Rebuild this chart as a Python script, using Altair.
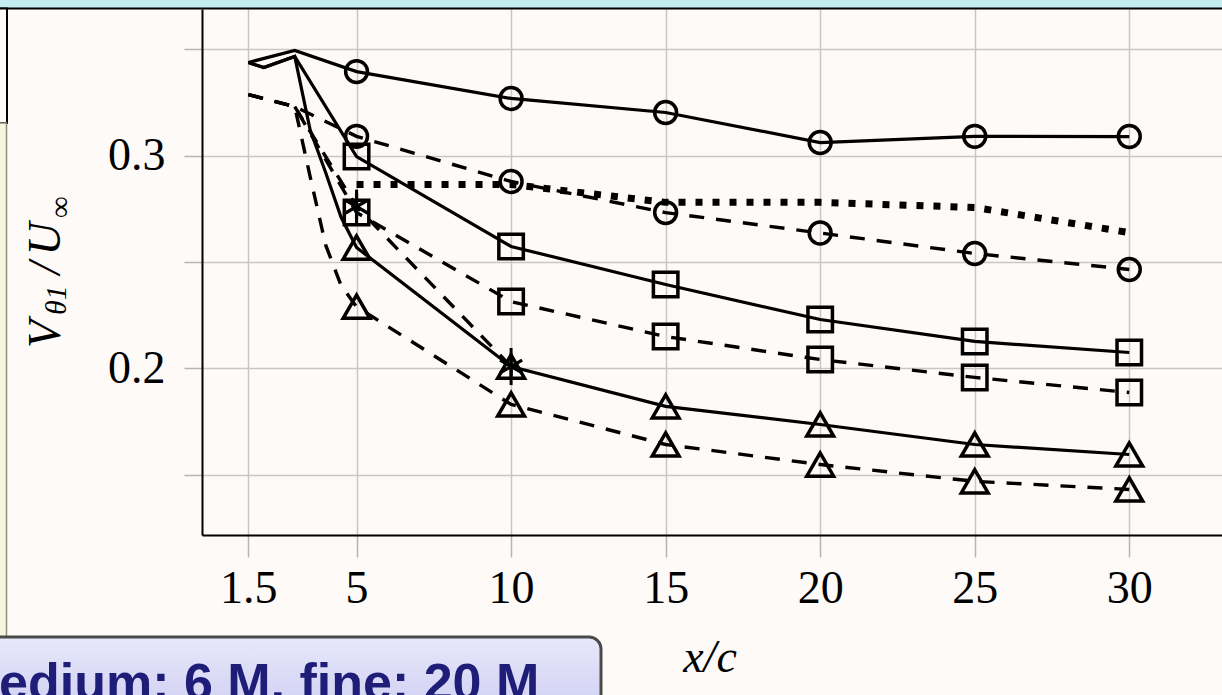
import altair as alt
import pandas as pd

# ---------------- data ----------------
sc_x = [1.5, 3, 5, 10, 15, 20, 25, 30]
sc_y = [0.3437, 0.3493, 0.3394, 0.3268, 0.3202, 0.3061, 0.3090, 0.3089]
ss_x = [1.5, 2, 3, 5, 10, 15, 20, 25, 30]
ss_y = [0.3437, 0.3413, 0.3465, 0.2995, 0.2573, 0.2394, 0.2230, 0.2127, 0.2075]
st_x = [1.5, 2, 3, 3.5, 4, 4.5, 5, 10, 15, 20, 25, 30]
st_y = [0.3437, 0.3413, 0.3465, 0.3120, 0.2920, 0.2710, 0.2568, 0.2009, 0.1822, 0.1737, 0.1643, 0.1596]
dc_x = [1.5, 3, 5, 10, 15, 20, 25, 30]
dc_y = [0.3286, 0.3230, 0.3090, 0.2878, 0.2732, 0.2636, 0.2540, 0.2465]
ds_x = [1.5, 3, 5, 10, 15, 20, 25, 30]
ds_y = [0.3286, 0.3230, 0.2732, 0.2314, 0.2150, 0.2042, 0.1958, 0.1887]
dt_x = [1.5, 3, 3.5, 4, 4.5, 5, 10, 15, 20, 25, 30]
dt_y = [0.3286, 0.3230, 0.2900, 0.2580, 0.2390, 0.2290, 0.1831, 0.1643, 0.1549, 0.1470, 0.1432]
dstar_x = [3, 5, 10]
dstar_y = [0.3230, 0.2760, 0.2009]
star_err_x = [5, 10]
star_err_y = [0.2760, 0.2009]
star_err = [0.0080, 0.0087]
dot_x = [5, 10, 15, 20, 25, 30]
dot_y = [0.2864, 0.2864, 0.2780, 0.2780, 0.2756, 0.2638]
marker_x = [5, 10, 15, 20, 25, 30]

x_ticks = [1.5, 5, 10, 15, 20, 25, 30]
y_ticks = [0.15, 0.2, 0.25, 0.3, 0.35]

x_title = "x/c"
box_text = "edium: 6 M, fine: 20 M"


def frame(name, xs, ys):
    return pd.DataFrame({"series": name, "x": xs, "y": ys})


solid_df = pd.concat([frame("sc", sc_x, sc_y), frame("ss", ss_x, ss_y), frame("st", st_x, st_y)])
dashed_df = pd.concat([frame("dc", dc_x, dc_y), frame("ds", ds_x, ds_y),
                       frame("dt", dt_x, dt_y), frame("dstar", dstar_x, dstar_y)])
dotted_df = frame("dot", dot_x, dot_y)


def markers(*dfs):
    d = pd.concat(dfs)
    return d[d["x"].isin(marker_x)]


circ_df = markers(frame("sc", sc_x, sc_y), frame("dc", dc_x, dc_y))
sq_df = markers(frame("ss", ss_x, ss_y), frame("ds", ds_x, ds_y))
tri_df = markers(frame("st", st_x, st_y), frame("dt", dt_x, dt_y))
star_df = frame("dstar", star_err_x, star_err_y)
err_df = pd.DataFrame({"x": star_err_x,
                       "lo": [v - e for v, e in zip(star_err_y, star_err)],
                       "hi": [v + e for v, e in zip(star_err_y, star_err)]})

one = pd.DataFrame({"a": [0]})

SERIF = "Liberation Serif"
W, H = 1020, 526
PADL, PADT = 202, 9

xaxis = alt.Axis(values=x_ticks, format="~g", title=None, grid=True, gridColor="#cbc5c3",
                 gridWidth=1.5, tickColor="#b9b3b1", tickWidth=1.5, tickSize=22,
                 domainColor="black", domainWidth=2, labelFont=SERIF, labelFontSize=46,
                 labelColor="black", labelPadding=9, labelFlush=False, labelOverlap=False)
yexpr = "(datum.value == 0.2 || datum.value == 0.3) ? format(datum.value, '.1f') : ''"
yaxis = alt.Axis(values=y_ticks, labelExpr=yexpr, title=None, grid=True, gridColor="#cbc5c3",
                 gridWidth=1.5, tickColor="#b9b3b1", tickWidth=1.5, tickSize=18,
                 domainColor="black", domainWidth=2, labelFont=SERIF, labelFontSize=46,
                 labelColor="black", labelPadding=19, labelFlush=False, labelOverlap=False)

YSCALE = alt.Scale(domain=[0.1218, 0.3688], nice=False, zero=False)
X = alt.X("x:Q", scale=alt.Scale(domain=[0, 33], nice=False, zero=False), axis=xaxis)
Y = alt.Y("y:Q", scale=YSCALE, axis=yaxis)

solid = alt.Chart(solid_df).mark_line(color="black", strokeWidth=3.2).encode(x=X, y=Y, detail="series:N")
dashed = alt.Chart(dashed_df).mark_line(color="black", strokeWidth=3.4, strokeDash=[15, 12]).encode(
    x=X, y=Y, detail="series:N")
dotted = alt.Chart(dotted_df).mark_line(color="black", strokeWidth=7, strokeDash=[7, 10]).encode(x=X, y=Y)

circles = alt.Chart(circ_df).mark_point(shape="circle", filled=False, size=480, strokeWidth=3.5,
                                        color="black", opacity=1).encode(x=X, y=Y)
squares = alt.Chart(sq_df).mark_point(shape="square", filled=False, size=600, strokeWidth=3.5,
                                      color="black", opacity=1).encode(x=X, y=Y)
tris = alt.Chart(tri_df).mark_point(shape="triangle-up", filled=False, size=720, strokeWidth=3.5,
                                    color="black", opacity=1).encode(x=X, y=Y)
ast_path = "M0,-1L0,1M-0.866,-0.5L0.866,0.5M-0.866,0.5L0.866,-0.5"
stars = alt.Chart(star_df).mark_point(shape=ast_path, filled=False, size=650, strokeWidth=3.2,
                                      color="black", opacity=1).encode(x=X, y=Y)
errs = alt.Chart(err_df).mark_rule(color="black", strokeWidth=3).encode(
    x=X, y=alt.Y("lo:Q", scale=YSCALE, axis=yaxis), y2="hi:Q")


def px(v):
    return v - PADL


def py(v):
    return v - PADT


top_strip = alt.Chart(one).mark_rect(fill="#c4edef").encode(
    x=alt.value(px(0)), x2=alt.value(px(1222)), y=alt.value(py(0)), y2=alt.value(py(8)))
top_line = alt.Chart(one).mark_rule(color="black", strokeWidth=2).encode(
    x=alt.value(px(0)), x2=alt.value(px(1222)), y=alt.value(py(8.5)))
left_box = alt.Chart(one).mark_rect(fill="#fdfaf7", stroke="black", strokeWidth=2).encode(
    x=alt.value(px(-5)), x2=alt.value(px(7)), y=alt.value(py(8.5)), y2=alt.value(py(123)))
left_panel = alt.Chart(one).mark_rect(fill="#f6f6df", stroke="#8e8e78", strokeWidth=1.5).encode(
    x=alt.value(px(-5)), x2=alt.value(px(6.5)), y=alt.value(py(123)), y2=alt.value(py(640)))

grad = alt.Gradient(gradient="linear", x1=0, x2=0, y1=0, y2=1,
                    stops=[alt.GradientStop(color="#e8e8fb", offset=0),
                           alt.GradientStop(color="#cfcff3", offset=1)])
bottom_box = alt.Chart(one).mark_rect(fill=grad, stroke="#4a4a4a", strokeWidth=3,
                                      cornerRadiusTopRight=12).encode(
    x=alt.value(px(-12)), x2=alt.value(px(601)), y=alt.value(py(637)), y2=alt.value(py(712)))
bottom_text = alt.Chart(one).mark_text(align="left", baseline="alphabetic", font="Liberation Sans",
                                       fontWeight="bold", fontSize=52, color="#1e1e78").encode(
    x=alt.value(px(-1)), y=alt.value(py(700)), text=alt.value(box_text))

xt = alt.Chart(one).mark_text(align="center", baseline="alphabetic", font=SERIF, fontStyle="italic",
                              fontSize=46, color="black").encode(
    x=alt.value(px(710)), y=alt.value(py(672)), text=alt.value(x_title))

# y title pieces: V_{theta 1} / U_{infinity}, rotated
ytitle_parts = [("V", 46, 334, 60), ("θ1", 30, 300, 66), ("/", 46, 268, 60),
                ("U", 46, 239, 60), ("∞", 30, 207, 70)]
ylayers = []
for txt, fs, cy, bx in ytitle_parts:
    ylayers.append(alt.Chart(one).mark_text(align="center", baseline="alphabetic", angle=270, font=SERIF,
                                            fontStyle="italic", fontSize=fs, color="black").encode(
        x=alt.value(px(bx)), y=alt.value(py(cy)), text=alt.value(txt)))

chart = alt.layer(
    solid, dashed, dotted, errs, circles, squares, tris, stars,
    top_strip, top_line, left_box, left_panel, bottom_box, bottom_text, xt, *ylayers
).properties(
    width=W, height=H,
    padding={"left": PADL, "top": PADT, "right": 0, "bottom": 695 - PADT - H},
    autosize=alt.AutoSizeParams(type="none"),
    background="#fdfaf7",
).configure_view(stroke=None)

chart.save("out.html", embed_options={"renderer": "svg", "actions": False})
